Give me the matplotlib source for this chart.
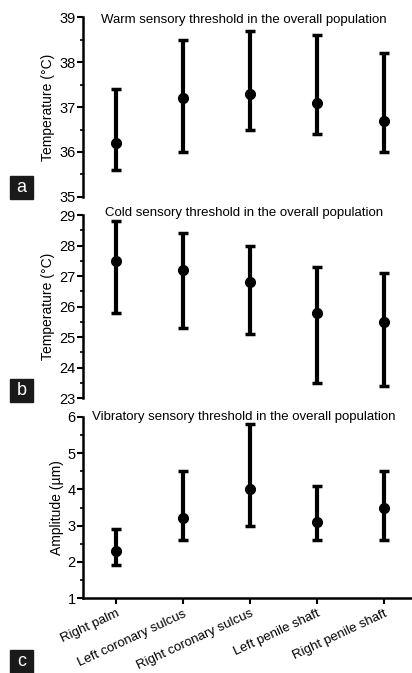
import matplotlib.pyplot as plt
from matplotlib.patches import Rectangle
from matplotlib.ticker import MultipleLocator

sites = ['Right palm', 'Left coronary sulcus', 'Right coronary sulcus',
         'Left penile shaft', 'Right penile shaft']

warm_mid = [36.2, 37.2, 37.3, 37.1, 36.7]
warm_low = [35.6, 36.0, 36.5, 36.4, 36.0]
warm_high = [37.4, 38.5, 38.7, 38.6, 38.2]

cold_mid = [27.5, 27.2, 26.8, 25.8, 25.5]
cold_low = [25.8, 25.3, 25.1, 23.5, 23.4]
cold_high = [28.8, 28.4, 28.0, 27.3, 27.1]

vib_mid = [2.3, 3.2, 4.0, 3.1, 3.5]
vib_low = [1.9, 2.6, 3.0, 2.6, 2.6]
vib_high = [2.9, 4.5, 5.8, 4.1, 4.5]

plt.rcParams['font.family'] = ['Liberation Sans', 'DejaVu Sans']

fig = plt.figure(figsize=(4.12, 6.73), dpi=100)

panels = [
    ([0.201, 0.7073, 0.799, 0.2674], warm_mid, warm_low, warm_high, (35, 39),
     'Temperature (°C)', 'Warm sensory threshold in the overall population', 'a', 0.7043, 0.985),
    ([0.201, 0.4086, 0.799, 0.2719], cold_mid, cold_low, cold_high, (23, 29),
     'Temperature (°C)', 'Cold sensory threshold in the overall population', 'b', 0.4026, 1.01),
    ([0.201, 0.1114, 0.799, 0.2690], vib_mid, vib_low, vib_high, (1, 6),
     'Amplitude (µm)', 'Vibratory sensory threshold in the overall population', 'c', 0.0, 1.0),
]

x = list(range(len(sites)))
for i, (rect, mid, low, high, ylim, ylab, title, letter, ly, ty) in enumerate(panels):
    ax = fig.add_axes(rect)
    err = [[m - l for m, l in zip(mid, low)], [h - m for m, h in zip(mid, high)]]
    ax.errorbar(x, mid, yerr=err, fmt='o', color='black', ms=7,
                elinewidth=3, capsize=3.5, capthick=2.5)
    ax.set_xlim(-0.5, 4.42)
    ax.set_ylim(*ylim)
    ax.yaxis.set_major_locator(MultipleLocator(1))
    ax.yaxis.set_minor_locator(MultipleLocator(0.5))
    for s in ['top', 'right']:
        ax.spines[s].set_visible(False)
    ax.spines['left'].set_linewidth(1.8)
    ax.spines['bottom'].set_linewidth(1.8)
    ax.tick_params(axis='y', which='major', length=4, width=1.5, labelsize=10.5, pad=1)
    ax.tick_params(axis='y', which='minor', length=2.5, width=1.2)
    ax.set_ylabel(ylab, fontsize=10, labelpad=3)
    ax.text(0.49, ty, title, transform=ax.transAxes, ha='center', va='center', fontsize=9.5)
    if i < 2:
        ax.spines['bottom'].set_visible(False)
        ax.set_xticks([])
    else:
        ax.set_xticks(x)
        ax.set_xticklabels(sites, rotation=25, ha='right', rotation_mode='anchor', fontsize=9.5)
        ax.tick_params(axis='x', length=4, width=1.5, pad=3)
    # panel letter box
    fig.patches.append(Rectangle((10 / 412, ly), 23 / 412, 23 / 673,
                                 transform=fig.transFigure, color='#1a1a1a', zorder=5))
    fig.text(21.5 / 412, ly + 11.5 / 673, letter, color='white', fontsize=13,
             ha='center', va='center', zorder=6)

fig.savefig('out.png', dpi=100)
